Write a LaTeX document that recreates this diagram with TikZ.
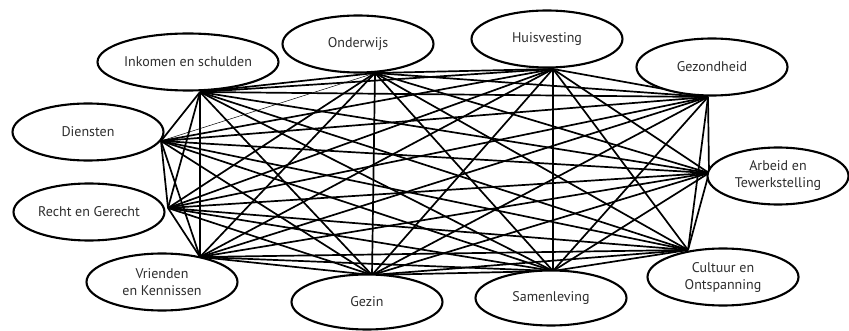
\documentclass[tikz,border=0pt]{standalone}
\usepackage{fontspec}
\setmainfont{PT Sans}
\usetikzlibrary{shapes.geometric}
\begin{document}
\begin{tikzpicture}[x=1pt,y=-1pt,
  topic/.style={ellipse,draw,line width=2.1pt,fill=white,inner sep=0pt,
    minimum width=151pt,minimum height=57pt,align=center,
    font=\fontsize{14}{17}\selectfont,text=black!82},
  link/.style={line width=1.7pt},
  thinlink/.style={line width=0.5pt}]
\useasboundingbox (0,0) rectangle (849,331);
% anchor points where the connectors meet
\coordinate (p1) at (200,92);
\coordinate (p2) at (375,73);
\coordinate (p3) at (553,69);
\coordinate (p4) at (708,97);
\coordinate (p5) at (709,173);
\coordinate (p6) at (688,250);
\coordinate (p7) at (553,271);
\coordinate (p8) at (372,275);
\coordinate (p9) at (200,257);
\coordinate (p10) at (168,208);
\coordinate (p11) at (161,141);
% connectors (complete graph)
\foreach \i in {1,...,11}{
  \foreach \j in {1,...,11}{
    \ifnum\i<\j
      \ifnum\i=2 \ifnum\j=11 \else \draw[link] (p\i) -- (p\j); \fi
      \else \draw[link] (p\i) -- (p\j); \fi
    \fi
  }
}
\draw[thinlink] (p2) -- (p11);
% topics
\node[topic] (ink) at (188,62) {Inkomen en schulden};
\node[topic] (ond) at (358,44) {Onderwijs};
\node[topic] (hui) at (547,39) {Huisvesting};
\node[topic] (gez) at (712,67) {Gezondheid};
\node[topic,minimum width=141pt] (arb) at (778,176) {Arbeid en\\Tewerkstelling};
\node[topic] (cul) at (723,277) {Cultuur en\\Ontspanning};
\node[topic,minimum height=55pt] (sam) at (551,298) {Samenleving};
\node[topic,minimum height=55pt] (gzn) at (367,302) {Gezin};
\node[topic] (vri) at (162,282) {Vrienden\\en Kennissen};
\node[topic] (rec) at (89,212) {Recht en Gerecht};
\node[topic] (die) at (88,132) {Diensten};
\end{tikzpicture}
\end{document}
